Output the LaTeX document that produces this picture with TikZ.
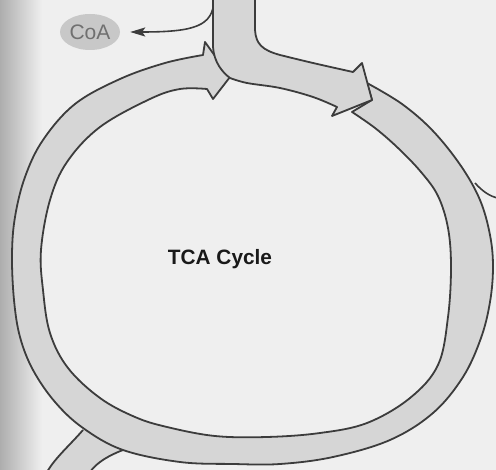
\documentclass[tikz,border=0pt]{standalone}
\usepackage{fontspec}
\setmainfont{Liberation Sans}
\usetikzlibrary{arrows.meta,shapes.geometric}
\definecolor{bg}{HTML}{EFEFEF}
\definecolor{band}{HTML}{D6D6D6}
\definecolor{edge}{HTML}{3C3C3C}
\definecolor{coafill}{HTML}{C8C8C8}
\definecolor{coatext}{HTML}{707070}
\begin{document}
\begin{tikzpicture}[x=1pt,y=-1pt,
  bandfill/.style={fill=band},
  bandline/.style={draw=edge, line width=1.8pt, line join=round},
  coabubble/.style={ellipse, fill=coafill, minimum width=60pt, minimum height=36pt, inner sep=0pt,
    text=coatext, font=\fontsize{21}{24}\selectfont},
  title/.style={font=\bfseries\fontsize{20.8}{24}\selectfont, text=black!90},
  thinline/.style={draw=edge, line width=1.6pt}]
\useasboundingbox (0,0) rectangle (496,470);
\fill[bg] (0,0) rectangle (496,470);
\shade[left color=black!32, right color=bg] (0,0) rectangle (42,470);

% branch band at bottom left
\fill[band] (83,430) .. controls (70,445) and (55,458) .. (47,472) -- (90,472)
  .. controls (97,462) and (110,455) .. (123,450) -- (110,420) -- cycle;
\draw[bandline] (83,430) .. controls (70,445) and (55,458) .. (47,472);
\draw[bandline] (123,450) .. controls (110,455) and (97,462) .. (90,472);

% main ring band ending in the left arrowhead
\path[bandfill, bandline] (372,100) -- plot[smooth, tension=0.6] coordinates {
 (367,83) (402,104) (433,131) (461,166) (480,200) (490,235) (493,267) (490,302)
 (481,338) (463,377) (433,413) (390,440) (333,457) (280,464) (233,464) (180,462)
 (123,450) (83,428) (55,402) (33,370) (20,337) (14,300) (12,255) (15,217)
 (25,177) (43,140) (75,104) (120,79) (165,63) (203,55)}
 -- (205,42) -- (230,77) -- (213,99) -- plot[smooth, tension=0.6] coordinates {
 (207,89) (180,89) (150,99) (100,127) (67,162) (50,200) (41,250) (43,290)
 (50,333) (68,368) (100,398) (135,417) (167,427) (215,436) (267,437) (320,433)
 (367,423) (410,398) (438,365) (448,317) (451,267) (448,228) (438,196) (421,172)
 (398,148) (375,128) (352,112)} -- cycle;

% CoA and its arrow
\node[coabubble] (coa) at (90,32) {CoA};
\coordinate (coasrc) at (214,0);
\draw[thinline, -{Stealth[length=15pt,width=9pt,inset=3pt]}, shorten >=10pt]
  (coasrc) .. controls (213,26) and (195,32) .. (coa.east);

% incoming stem with right arrowhead
\path[bandfill, bandline] (213,-2) -- (255,-2) -- (255,30) .. controls (256,44) and (262,50) .. (280,55)
 -- plot[smooth, tension=0.6] coordinates {(280,55) (313,63) (353,72)}
 -- (362,63) -- (372,100) -- (332,116) -- (337,107)
 -- plot[smooth, tension=0.6] coordinates {(337,107) (313,97) (280,88) (247,83) (230,78)}
 .. controls (222,72) and (214,62) .. (213,47) -- cycle;

% thin line leaving the ring at the right
\coordinate (r1) at (475,183);
\coordinate (r2) at (497,198);
\draw[thinline] (r1) .. controls (483,192) and (490,196) .. (r2);

\node[title] (tca) at (220,259) {TCA Cycle};
\end{tikzpicture}
\end{document}
